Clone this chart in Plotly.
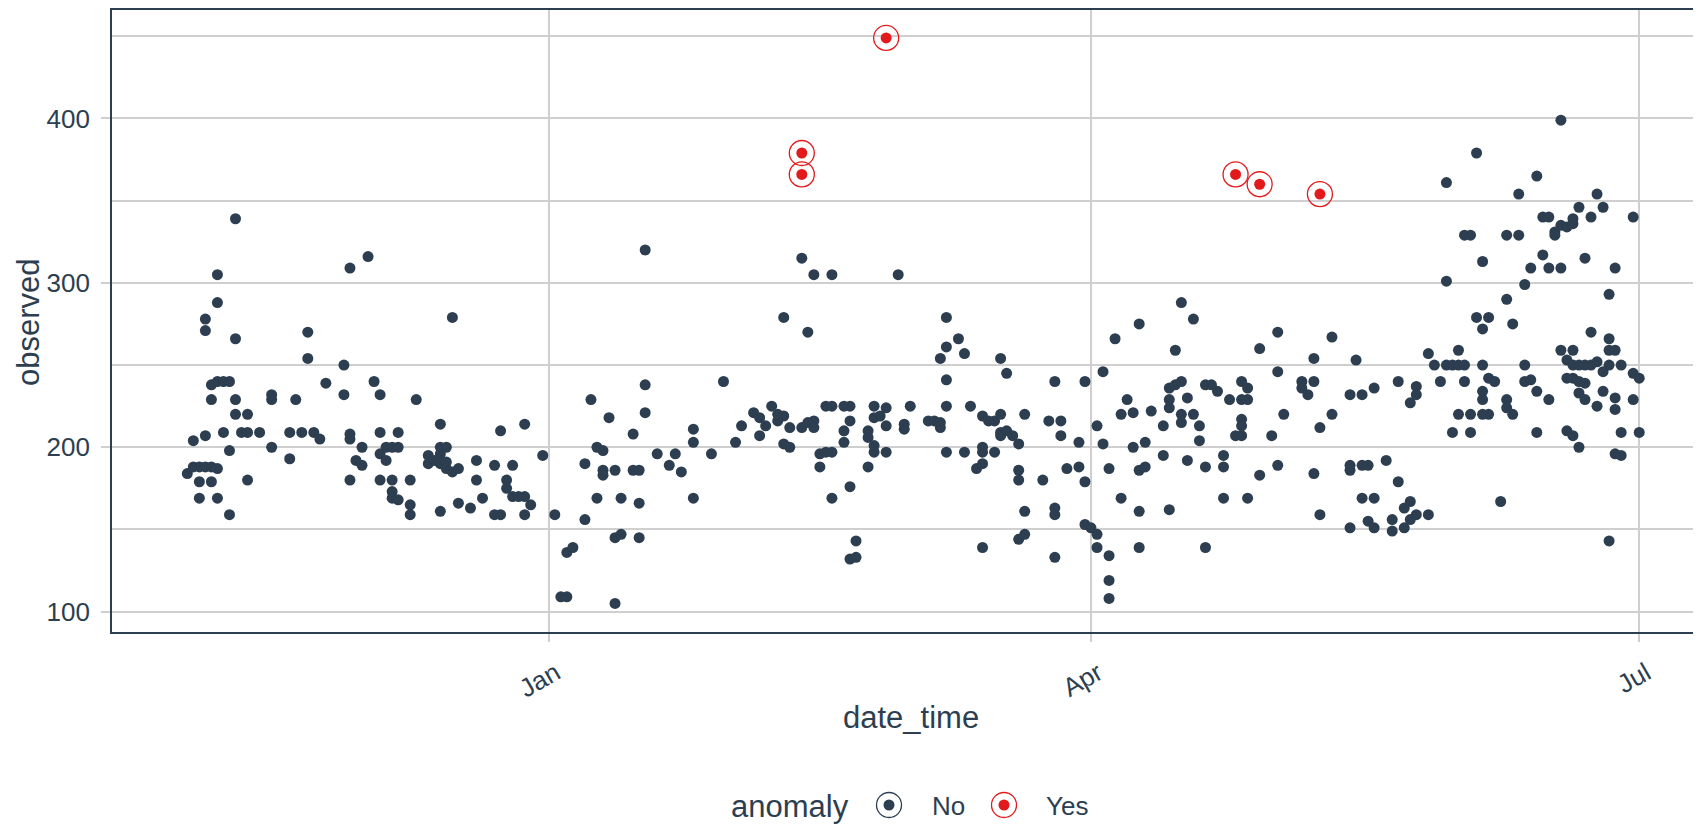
import plotly.graph_objects as go

# ---------------- data ----------------
nov_day = [2,3,3,4,4,4,5,5,5,5,6,6,6,6,7,7,7,7,7,8,8,9,9,9,10,10,10,10,11,12,12,12,14,16,16,16,19,19,20,21,22,22,23,24,25,28,28,29,29,29,29,30]
nov_val = [184,204,188,188,179,169,278,271,207,188,238,229,188,179,305,288,240,187,169,240,209,240,198,159,339,266,229,220,209,220,209,180,209,229,232,200,209,193,229,209,270,254,209,205,239,250,232,309,208,205,180,192]

dec_day = [1,1,2,3,4,4,4,4,5,5,6,6,6,6,7,7,7,9,9,9,10,12,12,13,14,14,14,14,14,15,15,15,16,16,17,17,19,20,20,21,23,23,24,24,25,25,26,26,27,28,28,28,29,31]
dec_val = [200,189,316,240,232,209,196,180,200,192,200,180,173,169,209,200,168,180,165,159,229,195,190,192,214,196,190,200,161,200,191,187,279,185,187,166,163,192,180,169,189,159,210,159,180,175,189,170,170,214,170,159,165,195]

jan_day = [2,3,4,4,5,7,7,8,9,9,10,10,10,11,12,12,12,13,13,15,15,16,16,16,17,17,17,19,21,22,23,25,25,25,28,30]
jan_val = [159,109,136,109,139,190,156,229,200,169,198,186,183,218,186,145,105,169,147,208,186,186,166,145,320,238,221,196,189,196,185,211,203,169,196,240]

feb_day = [1,2,4,5,5,6,7,8,8,9,9,9,10,10,12,12,13,13,14,14,14,15,15,16,16,17,17,17,17,19,19,19,20,20,20,20,21,21,23,23,23,24,24,24,24,25,26,26,26,28]
feb_val = [203,213,221,218,207,213,225,220,216,279,219,202,212,200,315,212,270,215,305,216,212,196,188,225,197,305,225,197,169,225,210,203,225,216,176,132,143,133,210,206,188,225,218,201,197,219,224,213,197,305]

mar_day = [1,1,2,5,6,7,7,7,8,8,8,8,8,10,11,11,12,13,14,14,14,14,14,15,16,16,17,17,17,17,18,18,19,20,20,20,20,21,21,21,24,25,26,26,26,26,27,27,28,30,30,31,31,31]
mar_val = [214,211,225,216,216,254,215,212,279,261,241,225,197,266,257,197,225,187,219,200,197,190,139,216,216,197,254,220,209,207,245,210,207,202,186,180,144,220,161,147,180,216,240,163,159,133,216,207,187,203,188,240,179,153]

apr_day = [1,2,2,2,3,3,4,4,4,4,5,6,6,7,8,8,9,9,9,9,10,10,11,13,13,14,14,14,14,15,15,16,16,16,16,17,17,18,18,19,19,20,20,20,21,22,23,23,23,24,25,26,26,26,26,26,27,27,27,29,29]
apr_val = [151,213,147,139,246,202,187,134,119,108,266,220,169,229,221,200,275,186,161,139,203,188,222,213,195,236,229,224,162,259,238,288,240,220,215,230,192,278,220,213,204,238,188,139,238,234,195,188,169,229,207,240,229,217,213,207,236,229,169,260,183]

may_day = [1,2,2,2,3,6,6,7,8,8,8,9,9,11,11,14,14,14,14,15,16,16,16,17,17,18,18,18,20,21,21,22,22,23,23,24,24,24,25,25,25,27,27,28,29,30,30,30,31,31]
may_val = [207,270,246,189,220,240,236,232,254,240,184,212,159,267,220,232,189,186,151,253,232,189,169,189,155,236,169,151,192,156,149,240,179,163,151,227,167,156,237,232,159,257,159,250,240,361,301,250,250,209]

jun_day = [1,1,1,2,2,2,3,3,3,4,4,5,5,5,5,5,5,6,6,6,7,8,9,9,9,9,10,10,11,11,12,12,12,13,13,14,14,14,15,15,16,16,16,17,17,18,18,18,18,19,19,19,19,20,20,20,20,20,20,21,21,21,21,21,22,22,22,22,23,23,23,24,24,24,25,25,25,26,26,26,26,26,27,27,27,27,27,28,28,28,30,30,30]
jun_val = [259,250,220,329,250,240,329,220,209,379,279,313,272,250,234,229,220,279,242,220,240,167,329,290,229,224,275,220,354,329,299,250,240,309,241,365,234,209,340,317,340,309,229,331,329,399,335,309,259,334,253,242,210,336,339,259,250,242,207,346,250,240,233,200,315,250,239,229,340,270,250,354,252,225,346,246,234,293,266,259,250,143,309,259,230,223,196,250,209,195,340,245,229]

jul_day = [1,1]
jul_val = [242,209]

anom_date = ["2018-02-12", "2018-02-12", "2018-02-26", "2018-04-25", "2018-04-29", "2018-05-09"]
anom_val = [379, 366, 449, 366, 360, 354]

x_tick_vals = ["2018-01-01", "2018-04-01", "2018-07-01"]
x_tick_text = ["Jan", "Apr", "Jul"]
y_tick_vals = [100, 200, 300, 400]
y_minor_vals = [150, 250, 350, 450]

months = [(2017, 11, nov_day, nov_val), (2017, 12, dec_day, dec_val),
          (2018, 1, jan_day, jan_val), (2018, 2, feb_day, feb_val),
          (2018, 3, mar_day, mar_val), (2018, 4, apr_day, apr_val),
          (2018, 5, may_day, may_val), (2018, 6, jun_day, jun_val),
          (2018, 7, jul_day, jul_val)]

dates, values = [], []
for yr, mo, dd, vv in months:
    dates += [f"{yr}-{mo:02d}-{d:02d}" for d in dd]
    values += list(vv)

# ---------------- styling ----------------
BLUE = "#2C3E50"
RED = "#E31A1C"
GRID = "#CFCFCF"
FONT = "Liberation Sans, Arial, sans-serif"

W, H = 1701, 825
OFF = 8            # the page body adds an 8px margin around the figure
L, T, B = 104, 2, 201
PW = W - L
PH = H - T - B


def paper_x(page_px):
    return (page_px - OFF - L) / PW


def paper_y(page_py):
    return (H - B - (page_py - OFF)) / PH


fig = go.Figure()
fig.add_trace(go.Scatter(x=dates, y=values, mode="markers", name="No",
                         marker=dict(size=11, color=BLUE, line=dict(width=0)),
                         hoverinfo="x+y", showlegend=False))
fig.add_trace(go.Scatter(x=anom_date, y=anom_val, mode="markers", name="Yes",
                         marker=dict(size=11, color=RED, line=dict(width=0)),
                         showlegend=False))
fig.add_trace(go.Scatter(x=anom_date, y=anom_val, mode="markers", name="Yes ring",
                         marker=dict(symbol="circle-open", size=25, color=RED,
                                     line=dict(width=1.3, color=RED)),
                         hoverinfo="skip", showlegend=False))

fig.update_layout(
    width=W, height=H,
    margin=dict(l=L, r=0, t=T, b=B, pad=0),
    plot_bgcolor="white", paper_bgcolor="white",
    font=dict(family=FONT, color=BLUE),
    showlegend=False,
)

fig.update_xaxes(
    type="date", range=["2017-10-20 12:00", "2018-07-12 14:00"],
    tickmode="array", tickvals=x_tick_vals, ticktext=x_tick_text,
    tickangle=-30, tickfont=dict(size=26, color=BLUE, family=FONT),
    ticklabelstandoff=6, ticklabelshift=7,
    ticks="outside", ticklen=8, tickwidth=1.5, tickcolor=GRID,
    showgrid=True, gridcolor=GRID, gridwidth=1.5,
    showline=True, linecolor=BLUE, linewidth=1.8, mirror=True,
    zeroline=False,
)
fig.update_yaxes(
    range=[87.6, 466.0],
    tickmode="array", tickvals=y_tick_vals,
    tickfont=dict(size=26, color=BLUE, family=FONT),
    ticklabelstandoff=6,
    ticks="outside", ticklen=9, tickwidth=1.5, tickcolor=GRID,
    showgrid=True, gridcolor=GRID, gridwidth=1.5,
    minor=dict(tickmode="array", tickvals=y_minor_vals, showgrid=True,
               gridcolor=GRID, gridwidth=1.5, ticks=""),
    showline=True, linecolor=BLUE, linewidth=1.8, mirror=False,
    zeroline=False,
)

ann = []
ann.append(dict(text="observed", xref="paper", yref="paper",
                x=paper_x(28), y=paper_y(322), textangle=-90,
                showarrow=False, xanchor="center", yanchor="middle",
                font=dict(size=31, color=BLUE, family=FONT)))
ann.append(dict(text="date_time", xref="paper", yref="paper",
                x=paper_x(911), y=paper_y(717),
                showarrow=False, xanchor="center", yanchor="middle",
                font=dict(size=31, color=BLUE, family=FONT)))
# legend
ann.append(dict(text="anomaly", xref="paper", yref="paper",
                x=paper_x(729), y=paper_y(806),
                showarrow=False, xanchor="left", yanchor="middle",
                font=dict(size=31, color=BLUE, family=FONT)))
ann.append(dict(text="No", xref="paper", yref="paper",
                x=paper_x(930), y=paper_y(806),
                showarrow=False, xanchor="left", yanchor="middle",
                font=dict(size=26, color=BLUE, family=FONT)))
ann.append(dict(text="Yes", xref="paper", yref="paper",
                x=paper_x(1044), y=paper_y(806),
                showarrow=False, xanchor="left", yanchor="middle",
                font=dict(size=26, color=BLUE, family=FONT)))
fig.update_layout(annotations=ann)

shapes = []
for cx, col in [(889, BLUE), (1004, RED)]:
    shapes.append(dict(type="circle", xref="paper", yref="paper",
                       xsizemode="pixel", ysizemode="pixel",
                       xanchor=paper_x(cx), yanchor=paper_y(805),
                       x0=-12.5, x1=12.5, y0=-12.5, y1=12.5,
                       line=dict(color=col, width=1.3), fillcolor="rgba(0,0,0,0)"))
    shapes.append(dict(type="circle", xref="paper", yref="paper",
                       xsizemode="pixel", ysizemode="pixel",
                       xanchor=paper_x(cx), yanchor=paper_y(805),
                       x0=-5.5, x1=5.5, y0=-5.5, y1=5.5,
                       line=dict(width=0), fillcolor=col))
fig.update_layout(shapes=shapes)

fig.write_html("out.html")
